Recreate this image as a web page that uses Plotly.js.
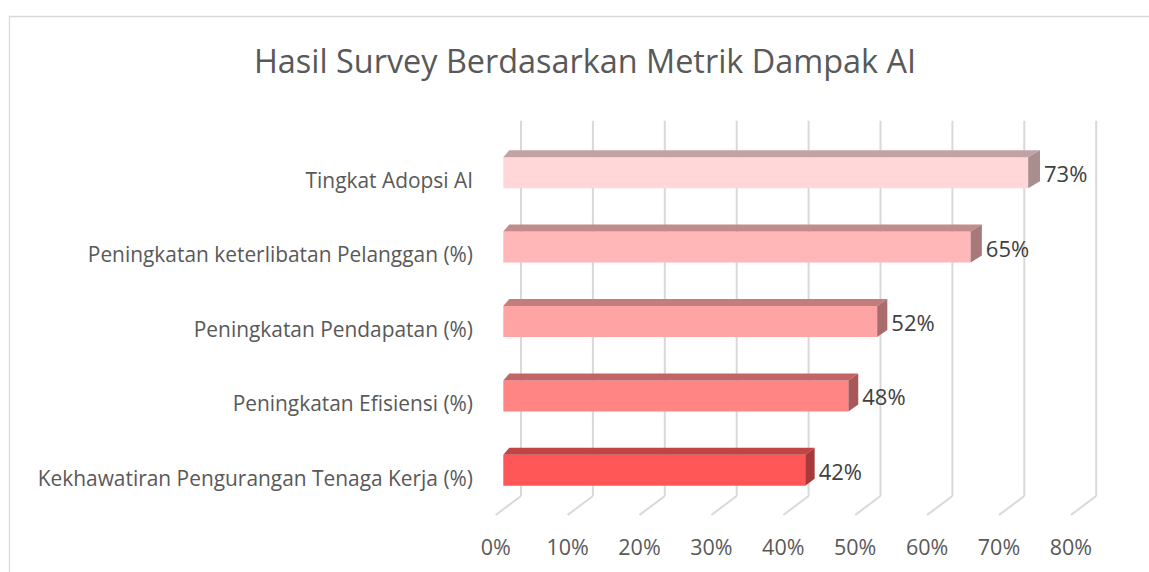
<!DOCTYPE html>
<html><head><meta charset="utf-8">
<script src="https://cdn.plot.ly/plotly-3.0.1.min.js"></script>
<style>html,body{margin:0;padding:0;background:#fff}</style>
</head><body><div id="chart" style="width:1149px;height:572px"></div>
<script>
const categories = ["Kekhawatiran Pengurangan Tenaga Kerja (%)", "Peningkatan Efisiensi (%)", "Peningkatan Pendapatan (%)", "Peningkatan keterlibatan Pelanggan (%)", "Tingkat Adopsi AI"];
const values = [42, 48, 52, 65, 73];
const tickValues = [0, 10, 20, 30, 40, 50, 60, 70, 80];
const tickLabels = ["0%", "10%", "20%", "30%", "40%", "50%", "60%", "70%", "80%"];
const frontColors = ["#FF5757", "#FF8585", "#FFA4A4", "#FFB7B8", "#FFD7D9"];
const topColors = ["#C24343", "#C26565", "#C27D7D", "#C28B8C", "#C2A3A5"];
const sideColors = ["#A63939", "#A85858", "#A86C6C", "#A87979", "#A88E8F"];
const titleText = "Hasil Survey Berdasarkan Metrik Dampak AI";

// geometry (pixels) for the pseudo-3D look
const W = 1149, H = 572;
const X0 = 503.3, PX = 7.19;   // px of value 0 on the front plane, px per 1%
const Y0 = 470.3, PY = 74.4;   // px of category index 0 centre, px per category
const dx = p => p / PX;
const dy = p => p / PY;
const barH = 31;
const depthY = 7;
const depthX = v => 6 + 0.08 * v;
const FONT = '"Open Sans", sans-serif';

const traces = [];
const idx = categories.map((c, i) => i);

traces.push({
  type: 'bar', orientation: 'h', x: values, y: idx, width: dy(barH),
  marker: {color: frontColors, line: {width: 0}}, hoverinfo: 'none', showlegend: false
});

values.forEach((v, i) => {
  const yt = i + dy(barH) / 2, yb = i - dy(barH) / 2, d = dy(depthY);
  const dL = dx(depthX(0)), dR = dx(depthX(v));
  traces.push({
    type: 'scatter', mode: 'lines', fill: 'toself', fillcolor: topColors[i],
    line: {width: 0, color: topColors[i]},
    x: [0, v, v + dR, dL, 0], y: [yt, yt, yt + d, yt + d, yt],
    hoverinfo: 'none', showlegend: false
  });
  traces.push({
    type: 'scatter', mode: 'lines', fill: 'toself', fillcolor: sideColors[i],
    line: {width: 0, color: sideColors[i]},
    x: [v, v + dR, v + dR, v, v], y: [yt, yt + d, yb + d, yb, yt],
    hoverinfo: 'none', showlegend: false
  });
});

traces.push({
  type: 'scatter', mode: 'text',
  x: values.map(v => v + dx(depthX(v)) + dx(4)),
  y: idx.map(i => i - dy(4)),
  text: values.map(v => v + '%'), textposition: 'middle right',
  textfont: {family: FONT, size: 22, color: '#404040'},
  hoverinfo: 'none', showlegend: false, cliponaxis: false
});

// grid (back wall verticals + floor diagonals)
const shapes = [];
const wallTop = (Y0 - 120.7) / PY, wallBot = -(496 - Y0) / PY, floorFront = -(515 - Y0) / PY;
tickValues.forEach(t => {
  const xb = t + dx(17.7), xf = t - dx(7.6);
  shapes.push({type: 'line', layer: 'below', xref: 'x', yref: 'y', x0: xb, x1: xb, y0: wallBot, y1: wallTop, line: {color: '#D9D9D9', width: 2}});
  shapes.push({type: 'line', layer: 'below', xref: 'x', yref: 'y', x0: xb, x1: xf, y0: wallBot, y1: floorFront, line: {color: '#D9D9D9', width: 2}});
});
// chart area border
shapes.push({type: 'rect', xref: 'paper', yref: 'paper', x0: 9.5 / W, x1: 1.01, y0: -0.01, y1: 1 - 16.5 / H, line: {color: '#D9D9D9', width: 1.3}, fillcolor: 'rgba(0,0,0,0)'});

const layout = {
  width: W, height: H, autosize: false,
  margin: {l: 0, r: 0, t: 0, b: 0, pad: 0},
  paper_bgcolor: '#ffffff', plot_bgcolor: 'rgba(0,0,0,0)',
  showlegend: false,
  title: {text: titleText, x: 585 / W, xanchor: 'center', xref: 'paper', y: 1 - 62 / H, yanchor: 'middle', yref: 'paper',
          font: {family: FONT, size: 32.4, color: '#595959'}},
  xaxis: {range: [-X0 / PX, (W - X0) / PX], domain: [0, 1], anchor: 'free', position: 1 - 532 / H,
          tickvals: tickValues.map(t => t - dx(7.6)), ticktext: tickLabels,
          showgrid: false, zeroline: false, showline: false, ticks: '',
          tickfont: {family: FONT, size: 21.5, color: '#595959'}, fixedrange: true},
  yaxis: {range: [-(H - Y0) / PY, Y0 / PY], domain: [0, 1], anchor: 'free', position: 473 / W,
          tickvals: idx.map(i => i - dy(8)), ticktext: categories,
          showgrid: false, zeroline: false, showline: false, ticks: '',
          tickfont: {family: FONT, size: 20.9, color: '#595959'}, fixedrange: true},
  shapes: shapes
};

Plotly.newPlot('chart', traces, layout, {displayModeBar: false, staticPlot: true});
</script>
</body></html>
